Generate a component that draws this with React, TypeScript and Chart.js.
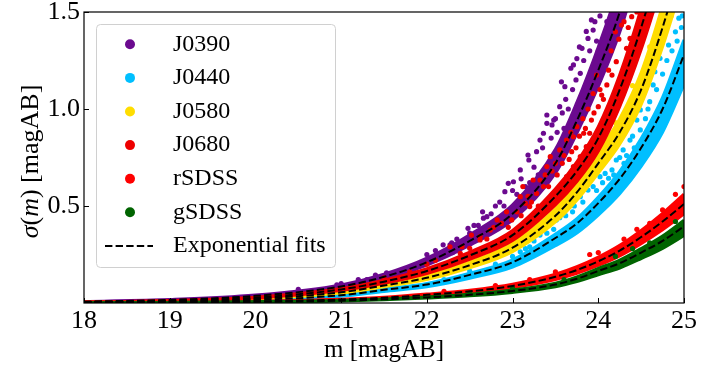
import React, { useEffect, useRef } from 'react';
import { Chart, registerables } from 'chart.js';

Chart.register(...registerables);

const FONT = "'Liberation Serif', 'Times New Roman', serif";

// ---------- data ----------
const mags = [18, 19, 20, 21, 21.5, 22, 22.5, 23, 23.5, 23.75, 24, 24.25, 24.5, 24.75, 25];
const xTicks = [18, 19, 20, 21, 22, 23, 24, 25];
const yTicks = [0.5, 1.0, 1.5];

const seriesNames = ['J0390', 'J0440', 'J0580', 'J0680', 'rSDSS', 'gSDSS'];
const seriesColors = ['#6b0a8f', '#00bfff', '#ffdd00', '#ee0000', '#ff0000', '#006400'];
const fitLabel = 'Exponential fits';

// exponential fits (dashed), sampled at mags
const fitJ0390 = [0.007, 0.016, 0.037, 0.085, 0.135, 0.21, 0.32, 0.46, 0.72, 0.94, 1.2, 1.5, 1.9, 2.3, 2.8];
const fitJ0440 = [0.003, 0.007, 0.016, 0.04, 0.068, 0.095, 0.145, 0.21, 0.335, 0.41, 0.515, 0.64, 0.8, 1.0, 1.28];
const fitJ0580 = [0.004, 0.009, 0.022, 0.055, 0.09, 0.13, 0.195, 0.285, 0.45, 0.57, 0.72, 0.88, 1.1, 1.42, 1.8];
const fitJ0680 = [0.005, 0.012, 0.028, 0.07, 0.11, 0.165, 0.245, 0.35, 0.55, 0.68, 0.85, 1.1, 1.42, 1.8, 2.2];
const fitRSDSS = [0.002, 0.004, 0.008, 0.018, 0.027, 0.042, 0.06, 0.088, 0.135, 0.17, 0.215, 0.27, 0.34, 0.42, 0.51];
const fitGSDSS = [0.001, 0.003, 0.006, 0.012, 0.019, 0.029, 0.042, 0.062, 0.095, 0.125, 0.165, 0.205, 0.26, 0.32, 0.395];

// dense core of each scatter cloud: upper and lower edges, sampled at mags
const upJ0390 = [0.0077, 0.0176, 0.0407, 0.0935, 0.1485, 0.231, 0.352, 0.506, 0.792, 1.034, 1.32, 1.65, 2.09, 2.53, 3.08];
const loJ0390 = [0.0065, 0.0149, 0.0344, 0.079, 0.1256, 0.1953, 0.2976, 0.4278, 0.6696, 0.8742, 1.116, 1.395, 1.767, 2.139, 2.604];
const upJ0440 = [0.0032, 0.0074, 0.017, 0.0424, 0.0721, 0.1007, 0.1537, 0.2226, 0.3551, 0.4346, 0.5459, 0.6784, 0.848, 1.06, 1.357];
const loJ0440 = [0.0026, 0.0062, 0.0141, 0.0352, 0.0598, 0.0836, 0.1276, 0.1848, 0.2948, 0.3608, 0.4532, 0.5632, 0.704, 0.88, 1.126];
const upJ0580 = [0.0043, 0.0097, 0.0238, 0.0594, 0.0972, 0.1404, 0.2106, 0.3078, 0.486, 0.6156, 0.7776, 0.9504, 1.188, 1.534, 1.944];
const loJ0580 = [0.0037, 0.0084, 0.0205, 0.0512, 0.0837, 0.1209, 0.1814, 0.2651, 0.4185, 0.5301, 0.6696, 0.8184, 1.023, 1.321, 1.674];
const upJ0680 = [0.0054, 0.0128, 0.03, 0.0749, 0.1177, 0.1766, 0.2622, 0.3745, 0.5885, 0.7276, 0.9095, 1.177, 1.519, 1.926, 2.354];
const loJ0680 = [0.0046, 0.011, 0.0258, 0.0644, 0.1012, 0.1518, 0.2254, 0.322, 0.506, 0.6256, 0.782, 1.012, 1.306, 1.656, 2.024];
const upRSDSS = [0.0022, 0.0044, 0.0088, 0.0198, 0.0297, 0.0462, 0.066, 0.0968, 0.1485, 0.187, 0.2365, 0.297, 0.374, 0.462, 0.561];
const loRSDSS = [0.0018, 0.0036, 0.0072, 0.0162, 0.0243, 0.0378, 0.054, 0.0792, 0.1215, 0.153, 0.1935, 0.243, 0.306, 0.378, 0.459];
const upGSDSS = [0.0011, 0.0032, 0.0065, 0.013, 0.0205, 0.0313, 0.0454, 0.067, 0.1026, 0.135, 0.1782, 0.2214, 0.2808, 0.3456, 0.4266];
const loGSDSS = [0.0009, 0.0026, 0.0053, 0.0106, 0.0167, 0.0255, 0.037, 0.0546, 0.0836, 0.11, 0.1452, 0.1804, 0.2288, 0.2816, 0.3476];

// scattered individual points [m, sigma]
const ptsJ0390 = [
  [20.5, 0.07], [20.95, 0.093], [21.0, 0.1], [21.2, 0.12], [21.3, 0.12], [21.4, 0.144], [21.53, 0.156], [21.6, 0.15],
  [21.65, 0.136], [21.75, 0.149], [21.85, 0.17], [21.92, 0.196], [22.0, 0.25], [22.1, 0.27], [22.19, 0.3], [22.27, 0.3],
  [22.29, 0.31], [22.3, 0.26], [22.35, 0.33], [22.4, 0.31], [22.48, 0.385], [22.5, 0.36], [22.54, 0.35], [22.55, 0.4],
  [22.6, 0.4], [22.65, 0.47], [22.66, 0.437], [22.7, 0.445], [22.75, 0.46], [22.8, 0.5], [22.85, 0.52], [22.9, 0.5],
  [22.91, 0.574], [22.95, 0.617], [23.0, 0.58], [23.01, 0.625], [23.05, 0.56], [23.09, 0.686], [23.1, 0.64], [23.15, 0.6],
  [23.18, 0.763], [23.19, 0.737], [23.2, 0.62], [23.25, 0.7], [23.28, 0.78], [23.3, 0.66], [23.32, 0.84], [23.35, 0.8],
  [23.36, 0.875], [23.4, 0.926], [23.4, 0.969], [23.45, 0.85], [23.46, 0.918], [23.48, 0.943], [23.5, 0.95], [23.52, 0.88],
  [23.55, 1.012], [23.57, 1.14], [23.58, 0.98], [23.6, 0.9], [23.61, 1.115], [23.62, 1.05], [23.65, 1.0], [23.68, 1.21],
  [23.7, 1.1], [23.71, 1.227], [23.74, 1.15], [23.75, 1.26], [23.78, 1.32], [23.79, 1.184], [23.81, 1.313], [23.83, 1.25],
  [23.86, 1.4], [23.88, 1.364], [23.9, 1.3], [23.92, 1.459], [23.94, 1.407], [23.96, 1.45], [23.98, 1.35], [24.0, 1.3],
  [24.02, 1.48], [24.1, 1.45],
];
const ptsJ0440 = [
  [22.2, 0.12], [22.5, 0.165], [22.8, 0.2], [23.0, 0.24], [23.09, 0.264], [23.15, 0.28], [23.2, 0.29], [23.25, 0.32],
  [23.32, 0.35], [23.36, 0.376], [23.4, 0.36], [23.44, 0.41], [23.48, 0.38], [23.51, 0.428], [23.55, 0.44], [23.59, 0.479],
  [23.62, 0.45], [23.67, 0.514], [23.7, 0.47], [23.72, 0.5], [23.79, 0.548], [23.82, 0.52], [23.85, 0.6], [23.88, 0.582],
  [23.94, 0.6], [23.98, 0.58], [24.02, 0.651], [24.05, 0.62], [24.08, 0.668], [24.12, 0.643], [24.16, 0.686], [24.18, 0.66],
  [24.21, 0.737], [24.25, 0.75], [24.29, 0.789], [24.3, 0.72], [24.33, 0.76], [24.37, 0.84], [24.4, 0.86], [24.42, 0.8],
  [24.45, 0.943], [24.49, 0.892], [24.49, 0.995], [24.55, 0.95], [24.58, 1.0], [24.6, 1.038], [24.64, 1.124], [24.66, 1.192],
  [24.68, 1.1], [24.72, 1.261], [24.75, 1.18], [24.8, 1.25], [24.82, 1.33], [24.86, 1.3], [24.9, 1.398], [24.92, 1.35],
  [24.94, 1.468], [24.97, 1.42], [24.98, 1.48],
];
const ptsJ0580 = [
  [22.0, 0.15], [22.6, 0.23], [23.0, 0.32], [23.3, 0.41], [23.6, 0.53], [23.9, 0.72], [24.2, 0.93], [24.4, 1.12],
  [24.6, 1.32], [24.85, 1.48],
];
const ptsJ0680 = [
  [21.5, 0.13], [21.8, 0.16], [22.0, 0.2], [22.1, 0.22], [22.27, 0.29], [22.39, 0.256], [22.41, 0.29], [22.5, 0.282],
  [22.52, 0.35], [22.62, 0.342], [22.62, 0.325], [22.7, 0.33], [22.74, 0.376], [22.78, 0.39], [22.82, 0.428], [22.87, 0.41],
  [22.93, 0.47], [22.95, 0.39], [22.99, 0.428], [23.05, 0.47], [23.09, 0.548], [23.1, 0.45], [23.12, 0.6], [23.15, 0.514],
  [23.18, 0.55], [23.2, 0.497], [23.22, 0.52], [23.24, 0.634], [23.28, 0.565], [23.3, 0.5], [23.32, 0.634], [23.36, 0.6],
  [23.38, 0.66], [23.4, 0.703], [23.42, 0.6], [23.44, 0.754], [23.46, 0.68], [23.48, 0.565], [23.5, 0.72], [23.52, 0.66],
  [23.55, 0.789], [23.55, 0.6], [23.58, 0.72], [23.6, 0.76], [23.63, 0.84], [23.63, 0.651], [23.66, 0.74], [23.68, 0.88],
  [23.69, 0.78], [23.71, 0.857], [23.71, 0.703], [23.74, 0.8], [23.75, 0.909], [23.78, 0.86], [23.79, 0.754], [23.82, 0.95],
  [23.83, 0.875], [23.85, 0.9], [23.86, 0.806], [23.88, 1.0], [23.9, 0.875], [23.92, 0.943], [23.94, 1.08], [23.95, 0.98],
  [23.98, 1.175], [24.0, 1.012], [24.02, 1.1], [24.04, 1.072], [24.06, 1.05], [24.1, 1.124], [24.12, 1.2], [24.15, 1.3],
  [24.16, 1.175], [24.2, 1.398], [24.21, 1.244], [24.24, 1.36], [24.27, 1.433], [24.3, 1.45], [24.33, 1.313], [24.35, 1.42],
  [24.37, 1.364], [24.39, 1.476], [24.45, 1.5],
];
const ptsRSDSS = [
  [22.2, 0.06], [22.8, 0.09], [23.2, 0.12], [23.5, 0.16], [23.9, 0.25], [24.0, 0.26], [24.3, 0.33], [24.45, 0.38],
  [24.6, 0.41], [24.75, 0.48], [24.9, 0.56], [25.0, 0.6],
];
const ptsGSDSS = [
  [22.5, 0.05], [23.0, 0.075], [23.6, 0.12], [24.2, 0.24], [24.4, 0.28], [24.6, 0.31], [24.9, 0.42],
];

const fits = [fitJ0390, fitJ0440, fitJ0580, fitJ0680, fitRSDSS, fitGSDSS];
const uppers = [upJ0390, upJ0440, upJ0580, upJ0680, upRSDSS, upGSDSS];
const lowers = [loJ0390, loJ0440, loJ0580, loJ0680, loRSDSS, loGSDSS];
const points = [ptsJ0390, ptsJ0440, ptsJ0580, ptsJ0680, ptsRSDSS, ptsGSDSS];

const yTitleParts: [string, boolean][] = [['σ', true], ['(', false], ['m', true], [')', false], [' [magAB]', false]];

const toXY = (ys: number[]) => mags.map((m, i) => ({ x: m, y: ys[i] }));

function buildDatasets() {
  const ds: any[] = [];
  seriesNames.forEach((name, s) => {
    const color = seriesColors[s];
    const order = seriesNames.length - s;
    ds.push({
      type: 'line', label: name + ' core', data: toXY(uppers[s]), borderColor: color, backgroundColor: color,
      borderWidth: 3, pointRadius: 0, fill: '+1', cubicInterpolationMode: 'monotone', order, clip: 0,
    });
    ds.push({
      type: 'line', label: name + ' core low', data: toXY(lowers[s]), borderColor: color, backgroundColor: color,
      borderWidth: 3, pointRadius: 0, fill: false, cubicInterpolationMode: 'monotone', order, clip: 0,
    });
    ds.push({
      type: 'scatter', label: name, data: points[s].map(([x, y]) => ({ x, y })), backgroundColor: color,
      borderWidth: 0, pointRadius: 2.6, showLine: false, order, clip: 0,
    });
  });
  fits.forEach((f, s) => {
    ds.push({
      type: 'line', label: s === 0 ? fitLabel : fitLabel + ' ' + seriesNames[s], data: toXY(f), borderColor: '#000',
      borderWidth: 2, borderDash: [7.4, 3.2], pointRadius: 0, fill: false, cubicInterpolationMode: 'monotone',
      order: 0, clip: 0,
    });
  });
  return ds;
}

const decorPlugin = {
  id: 'decor',
  afterDraw(chart: any) {
    const { ctx, chartArea: a, scales } = chart;
    const xs = scales.x;
    const ys = scales.y;
    ctx.save();
    // inward ticks
    ctx.strokeStyle = '#000';
    ctx.lineWidth = 1;
    ctx.beginPath();
    xTicks.forEach((v) => {
      const px = Math.round(xs.getPixelForValue(v)) + 0.5;
      ctx.moveTo(px, a.bottom);
      ctx.lineTo(px, a.bottom - 5);
    });
    yTicks.forEach((v) => {
      const py = Math.round(ys.getPixelForValue(v)) + 0.5;
      ctx.moveTo(a.left, py);
      ctx.lineTo(a.left + 5, py);
    });
    ctx.stroke();
    // frame
    ctx.lineWidth = 1.2;
    ctx.strokeRect(a.left, a.top, a.right - a.left, a.bottom - a.top);

    // legend
    const lx = a.left + 12;
    const ly = a.top + 12;
    const lw = 239;
    const lh = 243;
    ctx.beginPath();
    ctx.roundRect(lx + 0.5, ly + 0.5, lw, lh, 4);
    ctx.fillStyle = 'rgba(255,255,255,0.85)';
    ctx.fill();
    ctx.strokeStyle = '#d0d0d0';
    ctx.lineWidth = 1;
    ctx.stroke();
    ctx.font = `24px ${FONT}`;
    ctx.textBaseline = 'middle';
    ctx.textAlign = 'left';
    const rowH = 33.6;
    const row0 = ly + 20.3;
    seriesNames.forEach((name, i) => {
      const cy = row0 + i * rowH;
      ctx.beginPath();
      ctx.arc(lx + 34, cy, 5, 0, Math.PI * 2);
      ctx.fillStyle = seriesColors[i];
      ctx.fill();
      ctx.fillStyle = '#000';
      ctx.fillText(name, lx + 77, cy);
    });
    const fy = row0 + seriesNames.length * rowH;
    ctx.beginPath();
    ctx.setLineDash([7.4, 3.2]);
    ctx.strokeStyle = '#000';
    ctx.lineWidth = 2;
    ctx.moveTo(lx + 9, fy);
    ctx.lineTo(lx + 57, fy);
    ctx.stroke();
    ctx.setLineDash([]);
    ctx.fillStyle = '#000';
    ctx.fillText(fitLabel, lx + 77, fy);

    // y-axis title with italic math parts
    ctx.translate(38, (a.top + a.bottom) / 2 + 4);
    ctx.rotate(-Math.PI / 2);
    ctx.textBaseline = 'alphabetic';
    const fontOf = (it: boolean) => `${it ? 'italic ' : ''}26px ${FONT}`;
    let total = 0;
    const widths = yTitleParts.map(([t, it]) => {
      ctx.font = fontOf(it);
      const w = ctx.measureText(t).width;
      total += w;
      return w;
    });
    let x = -total / 2;
    yTitleParts.forEach(([t, it], i) => {
      ctx.font = fontOf(it);
      ctx.fillText(t, x, 0);
      x += widths[i];
    });
    ctx.restore();
  },
};

export default function App() {
  const ref = useRef<HTMLCanvasElement | null>(null);
  useEffect(() => {
    if (!ref.current) return;
    const chart = new Chart(ref.current, {
      type: 'scatter',
      data: { datasets: buildDatasets() },
      options: {
        animation: false,
        responsive: false,
        devicePixelRatio: 1,
        layout: { padding: { left: 0, right: 40, top: 12, bottom: 0 } },
        plugins: { legend: { display: false }, tooltip: { enabled: false } },
        scales: {
          x: {
            type: 'linear',
            min: 18,
            max: 25,
            afterBuildTicks: (s: any) => {
              s.ticks = xTicks.map((v) => ({ value: v }));
            },
            ticks: {
              font: { family: FONT, size: 26 },
              color: '#000',
              padding: 3,
              maxRotation: 0,
              autoSkip: false,
              callback: (v: any) => String(v),
            },
            grid: { display: false, drawTicks: false },
            border: { display: false },
            title: {
              display: true,
              text: 'm [magAB]',
              color: '#000',
              font: { family: FONT, size: 25 },
              padding: { top: 0, bottom: 4 },
            },
            afterFit: (s: any) => {
              s.height = 66;
              s.paddingLeft = 0;
              s.paddingRight = 0;
            },
          },
          y: {
            type: 'linear',
            min: 0,
            max: 1.5,
            afterBuildTicks: (s: any) => {
              s.ticks = yTicks.map((v) => ({ value: v }));
            },
            ticks: {
              font: { family: FONT, size: 26 },
              color: '#000',
              padding: 4,
              callback: (v: any) => Number(v).toFixed(1),
            },
            grid: { display: false, drawTicks: false },
            border: { display: false },
            afterFit: (s: any) => {
              s.width = 84;
              s.paddingTop = 0;
              s.paddingBottom = 0;
            },
          },
        },
      },
      plugins: [decorPlugin],
    } as any);
    return () => chart.destroy();
  }, []);
  return (
    <div style={{ position: 'absolute', left: 0, top: 0, width: 724, height: 369, background: '#fff' }}>
      <canvas ref={ref} width={724} height={369} style={{ width: 724, height: 369, display: 'block' }} />
    </div>
  );
}
